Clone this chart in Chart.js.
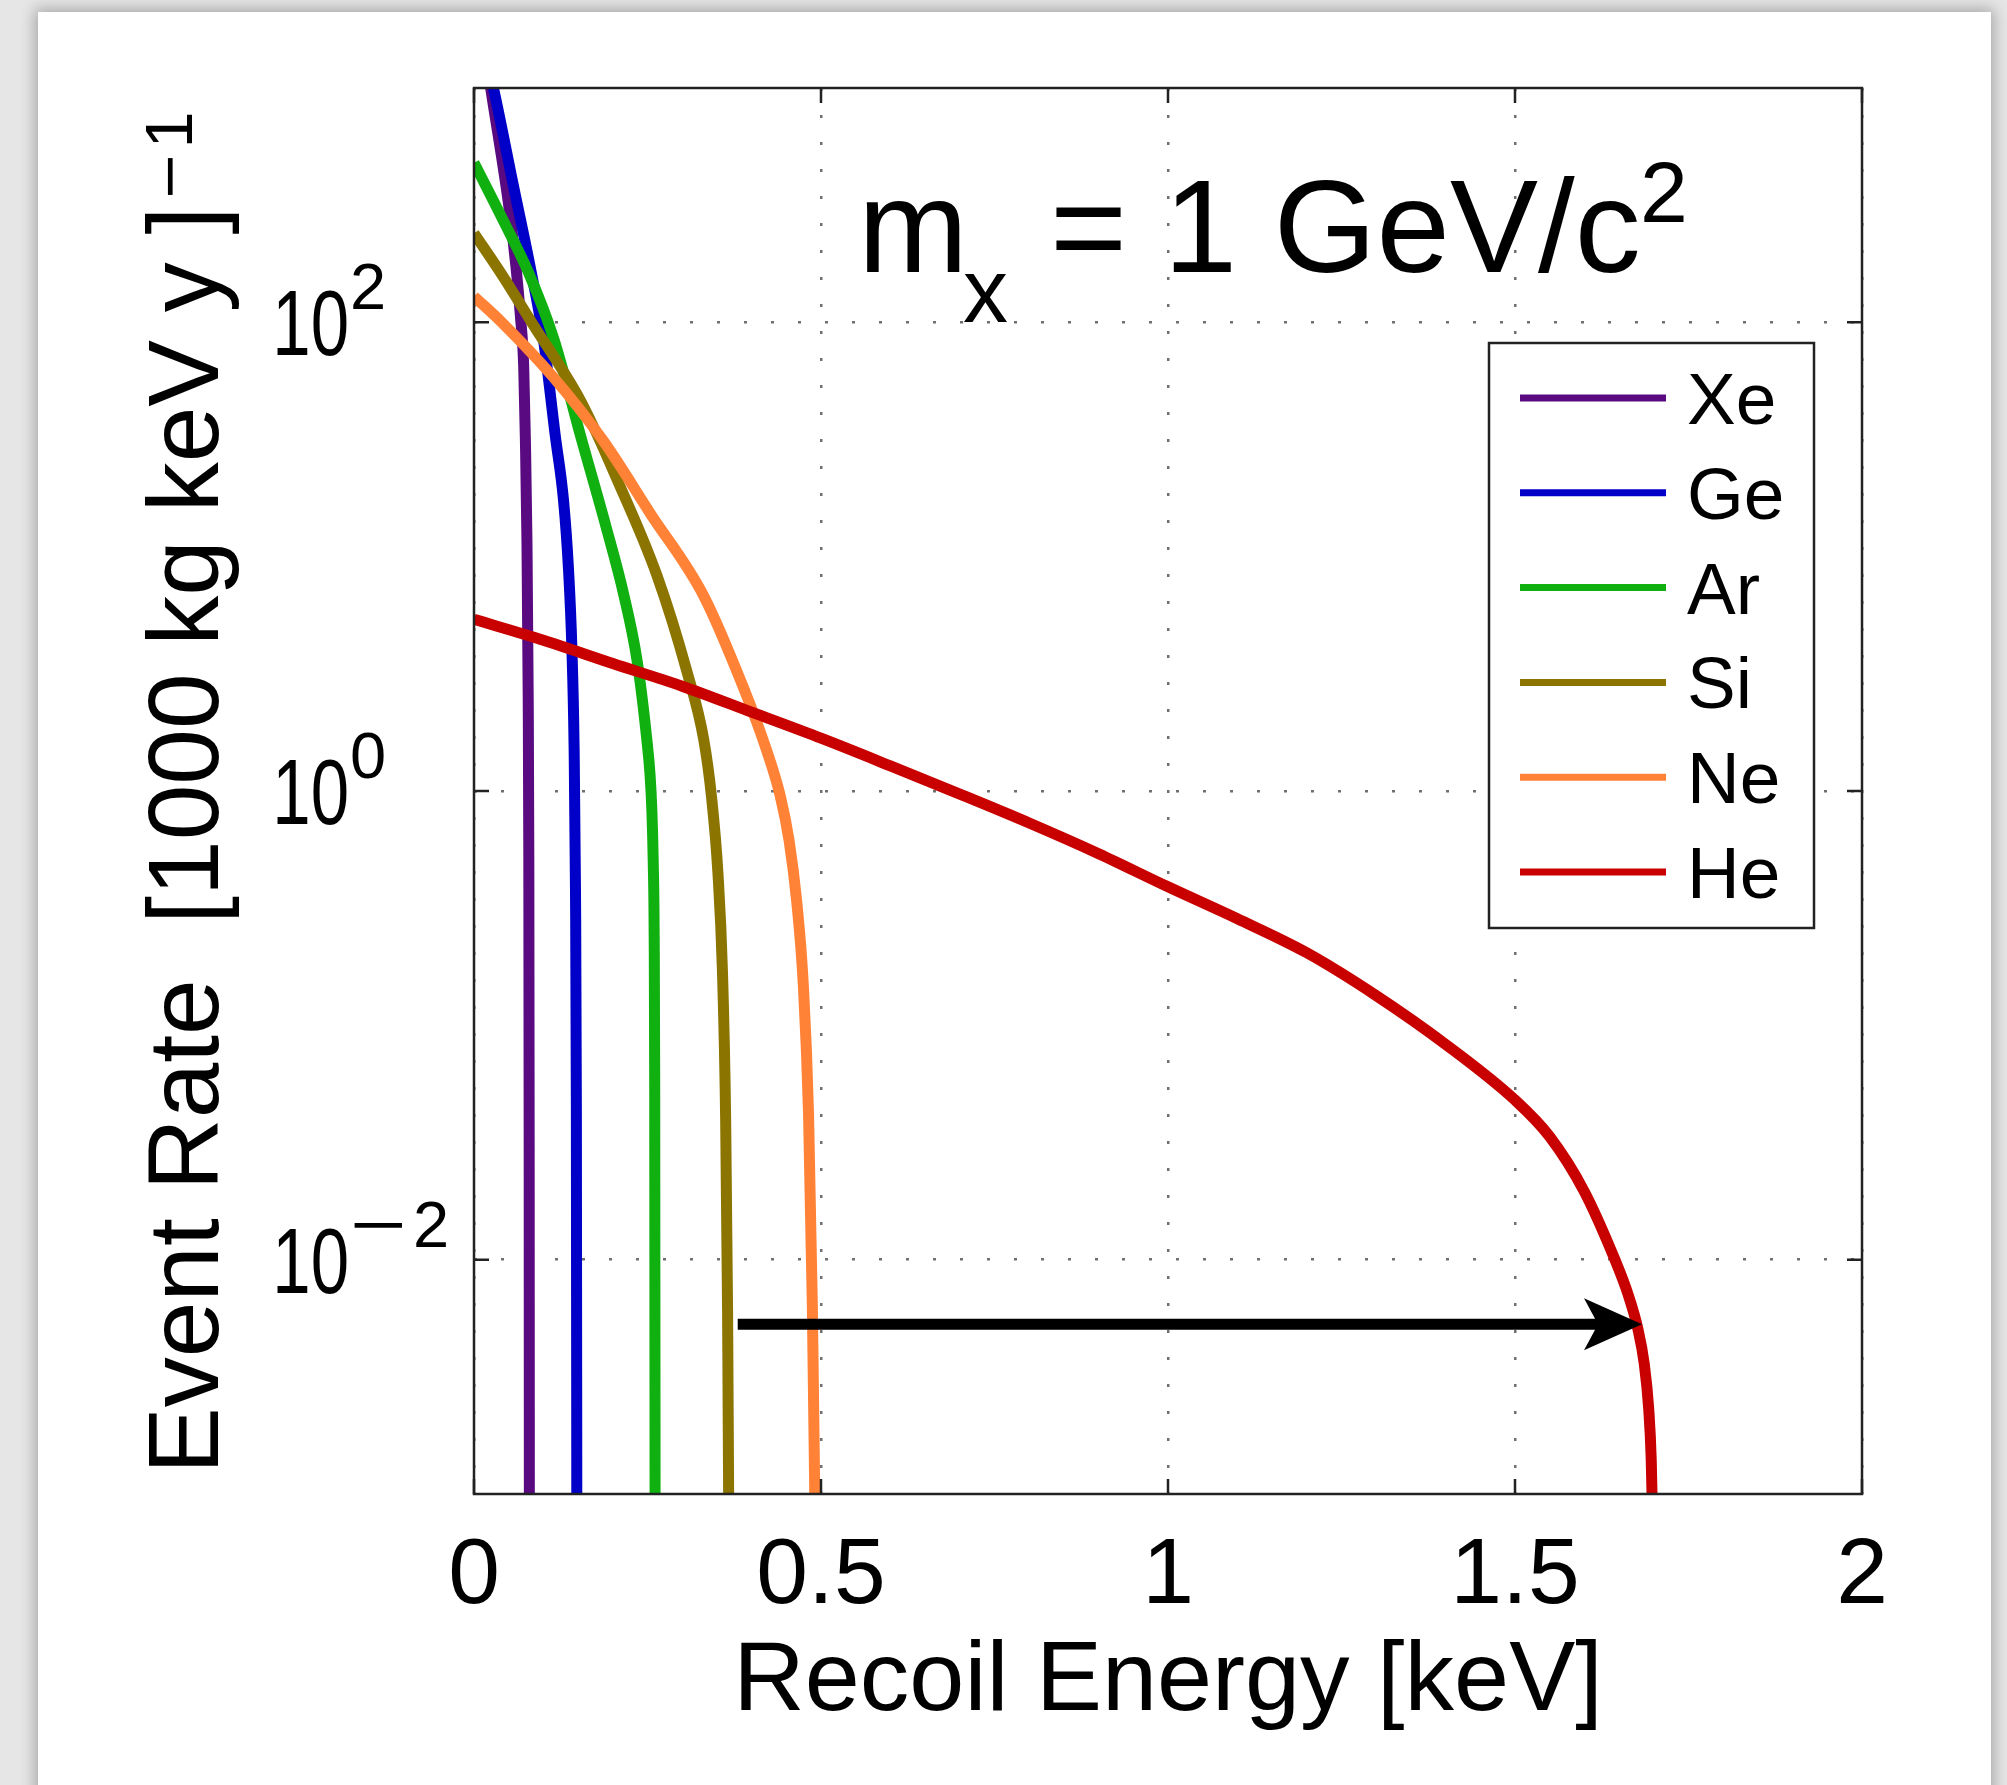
<!DOCTYPE html>
<html>
<head>
<meta charset="utf-8">
<script src="https://cdn.jsdelivr.net/npm/chart.js@4.4.1/dist/chart.umd.min.js"></script>
<style>
  html, body { margin: 0; padding: 0; background: #e6e6e6; overflow: hidden; }
  #card { position: absolute; left: 38px; top: 12px; width: 1953px; height: 1820px; background: #fff;
          box-shadow: 0 0 14px 3px rgba(0,0,0,0.28); }
  #wrap { position: absolute; left: 0; top: 0; width: 2007px; height: 1785px; }
</style>
</head>
<body>
<div id="card"></div>
<div id="wrap"><canvas id="grafico"></canvas></div>
<script>
// target nuclei, in legend order
const nuclei = ['Xe', 'Ge', 'Ar', 'Si', 'Ne', 'He'];
const lineColors = ['#5a0a80', '#0000c8', '#10b010', '#8c7400', '#ff8237', '#c80000'];

// recoil energy [keV] and event rate [1000 kg keV y]^-1
const energyXe = [0, 0.024, 0.05, 0.06, 0.067, 0.0716, 0.074, 0.0763, 0.0781, 0.079, 0.0795, 0.0798];
const rateXe   = [3000, 1000, 316, 178, 105, 65, 32, 11.7, 2.5, 0.5, 0.03, 0.0005];

const energyGe = [0, 0.028, 0.057, 0.08, 0.1, 0.117, 0.129, 0.1363, 0.141, 0.1442, 0.1462, 0.1475, 0.1482];
const rateGe   = [2200, 1000, 380, 178, 85, 33, 17.4, 8.7, 4.1, 1.56, 0.39, 0.044, 0.0006];

const energyAr = [0, 0.043, 0.079, 0.115, 0.155, 0.19, 0.2157, 0.235, 0.249, 0.2536, 0.2562, 0.2582, 0.2596, 0.2604, 0.261];
const rateAr   = [480, 269, 162, 85, 31.6, 13.5, 6.9, 3.6, 1.66, 1.18, 0.84, 0.507, 0.244, 0.054, 0.0005];

const energySi = [0, 0.043, 0.084, 0.149, 0.173, 0.2013, 0.2637, 0.307, 0.331, 0.3423, 0.3515, 0.358, 0.3626, 0.3654, 0.3673];
const rateSi   = [240, 155, 99, 49, 35.4, 23, 8.3, 3.22, 1.66, 0.94, 0.446, 0.17, 0.04, 0.006, 0.0006];

const energyNe = [0, 0.04, 0.115, 0.187, 0.254, 0.331, 0.3885, 0.421, 0.441, 0.454, 0.465, 0.4745, 0.482, 0.4875, 0.491, 0.493];
const rateNe   = [129, 100, 58, 31, 15.3, 6.8, 2.75, 1.51, 0.96, 0.615, 0.338, 0.149, 0.0424, 0.0064, 0.001, 0.0003];

const energyHe = [0, 0.1, 0.2, 0.3, 0.4, 0.5, 0.6, 0.7, 0.8, 0.9, 1.0, 1.1, 1.2, 1.3, 1.4, 1.5, 1.55, 1.6, 1.644, 1.6623, 1.677, 1.6862, 1.6927, 1.6963, 1.6987];
const rateHe   = [5.4, 4.4, 3.5, 2.8, 2.17, 1.68, 1.28, 0.97, 0.73, 0.54, 0.39, 0.285, 0.204, 0.134, 0.083, 0.048, 0.0335, 0.0195, 0.01, 0.0072, 0.00507, 0.0036, 0.0023, 0.0014, 0.00067];

const energies = [energyXe, energyGe, energyAr, energySi, energyNe, energyHe];
const rates = [rateXe, rateGe, rateAr, rateSi, rateNe, rateHe];

// axes
const xTicks = [0, 0.5, 1, 1.5, 2];
const xTickLabels = ['0', '0.5', '1', '1.5', '2'];
const yTicks = [1e-2, 1, 1e2];
const yTickExponents = ['\u22122', '0', '2'];

// arrow: from the Si end point over to the He end point
const arrowEnergy = [0.38, 1.683];
const arrowRate = 0.0053;

const FONT = '"Liberation Sans", Arial, Helvetica, sans-serif';

function txt(ctx, s, x, y, size, align, sx) {
  ctx.save();
  ctx.translate(x, y);
  ctx.scale(sx || 1, 1);
  ctx.font = size + 'px ' + FONT;
  ctx.textAlign = align || 'left';
  ctx.textBaseline = 'alphabetic';
  ctx.fillStyle = '#000';
  ctx.fillText(s, 0, 0);
  const w = ctx.measureText(s).width * (sx || 1);
  ctx.restore();
  return w;
}

// exponent with a long TeX-like minus
function expo(ctx, s, x, y, size, stretch) {
  if (s[0] === '\u2212') {
    const w = txt(ctx, '\u2212', x, y, size, 'left', stretch);
    return w + txt(ctx, s.slice(1), x + w + 6, y, size, 'left');
  }
  return txt(ctx, s, x, y, size, 'left');
}

const matlabLook = {
  id: 'matlabLook',
  afterDatasetsDraw(chart) {
    const ctx = chart.ctx;
    const a = chart.chartArea;
    const xs = chart.scales.x, ys = chart.scales.y;
    ctx.save();

    // arrow
    const ax0 = xs.getPixelForValue(arrowEnergy[0]);
    const ax1 = xs.getPixelForValue(arrowEnergy[1]);
    const ay = ys.getPixelForValue(arrowRate);
    ctx.strokeStyle = '#000';
    ctx.lineWidth = 11;
    ctx.beginPath();
    ctx.moveTo(ax0, ay);
    ctx.lineTo(ax1 - 30, ay);
    ctx.stroke();
    ctx.fillStyle = '#000';
    ctx.beginPath();
    ctx.moveTo(ax1, ay);
    ctx.lineTo(ax1 - 58, ay - 26);
    ctx.lineTo(ax1 - 44, ay);
    ctx.lineTo(ax1 - 58, ay + 26);
    ctx.closePath();
    ctx.fill();

    // box and inward ticks
    ctx.strokeStyle = '#222';
    ctx.lineWidth = 2.5;
    ctx.strokeRect(a.left, a.top, a.right - a.left, a.bottom - a.top);
    ctx.beginPath();
    xTicks.forEach(v => {
      const px = xs.getPixelForValue(v);
      ctx.moveTo(px, a.bottom); ctx.lineTo(px, a.bottom - 15);
      ctx.moveTo(px, a.top); ctx.lineTo(px, a.top + 15);
    });
    yTicks.forEach(v => {
      const py = ys.getPixelForValue(v);
      ctx.moveTo(a.left, py); ctx.lineTo(a.left + 15, py);
      ctx.moveTo(a.right, py); ctx.lineTo(a.right - 15, py);
    });
    ctx.stroke();

    // tick labels
    xTicks.forEach((v, i) => txt(ctx, xTickLabels[i], xs.getPixelForValue(v), 1603, 93, 'center'));
    yTicks.forEach((v, i) => {
      const py = ys.getPixelForValue(v);
      txt(ctx, '10', 349, py + 33, 92, 'right', 0.75);
      expo(ctx, yTickExponents[i], 350, py - 13, 65, 1.5);
    });

    // axis titles
    txt(ctx, 'Recoil Energy [keV]', (a.left + a.right) / 2, 1710, 99, 'center');
    ctx.save();
    ctx.translate(218, 1474);
    ctx.rotate(-Math.PI / 2);
    const w = txt(ctx, 'Event Rate  [1000 kg keV y ]', 0, 0, 100, 'left');
    expo(ctx, '\u22121', w + 8, -26, 66, 1.15);
    ctx.restore();

    // mass label
    txt(ctx, 'm', 858, 272, 132);
    txt(ctx, 'x', 963, 322, 90);
    txt(ctx, '= 1 GeV/c', 1050, 272, 132);
    txt(ctx, '2', 1640, 222, 86);

    // legend
    const lx = 1489, ly = 343, lw = 325, lh = 585;
    ctx.fillStyle = '#fff';
    ctx.fillRect(lx, ly, lw, lh);
    ctx.strokeStyle = '#222';
    ctx.lineWidth = 2.5;
    ctx.strokeRect(lx, ly, lw, lh);
    nuclei.forEach((name, i) => {
      const cy = 398 + i * 94.8;
      ctx.strokeStyle = lineColors[i];
      ctx.lineWidth = 7;
      ctx.beginPath();
      ctx.moveTo(1520, cy); ctx.lineTo(1666, cy);
      ctx.stroke();
      txt(ctx, name, 1687, cy + 26, 73, 'left');
    });
    ctx.restore();
  }
};

const datasets = nuclei.map((name, i) => ({
  label: name,
  data: energies[i].map((e, j) => ({ x: e, y: rates[i][j] })),
  borderColor: lineColors[i],
  backgroundColor: lineColors[i],
  borderWidth: 11,
  pointRadius: 0,
  cubicInterpolationMode: 'monotone',
  clip: 0,
  order: nuclei.length - i
}));

const ctx = document.getElementById('grafico').getContext('2d');
new Chart(ctx, {
  type: 'line',
  data: { datasets },
  options: {
    responsive: true,
    maintainAspectRatio: false,
    animation: false,
    layout: { padding: { left: 474, top: 88, right: 145, bottom: 291 } },
    plugins: { legend: { display: false }, tooltip: { enabled: false } },
    scales: {
      x: {
        type: 'linear', min: 0, max: 2,
        afterBuildTicks: axis => { axis.ticks = xTicks.map(v => ({ value: v })); },
        ticks: { display: false },
        grid: { color: '#707070', lineWidth: 2.5, drawTicks: false },
        border: { display: false, dash: [3, 24] }
      },
      y: {
        type: 'logarithmic', min: 1e-3, max: 1e3,
        afterBuildTicks: axis => { axis.ticks = yTicks.map(v => ({ value: v })); },
        ticks: { display: false },
        grid: { color: '#707070', lineWidth: 2.5, drawTicks: false },
        border: { display: false, dash: [3, 24] }
      }
    }
  },
  plugins: [matlabLook]
});
</script>
</body>
</html>
